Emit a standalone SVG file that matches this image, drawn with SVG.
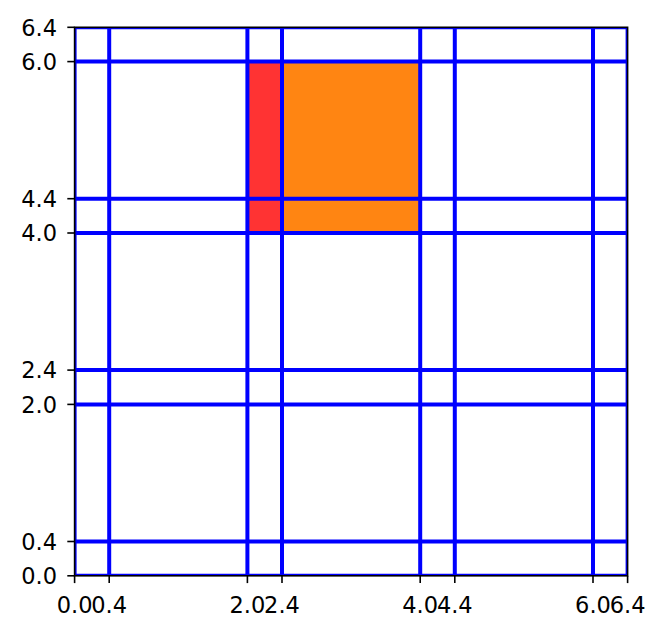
<svg xmlns="http://www.w3.org/2000/svg" width="666" height="636" viewBox="0 0 666 636">
<style>
.grid line{stroke:#0000ff;stroke-width:4}
.tick line{stroke:#000;stroke-width:1.6}
text{font-family:"DejaVu Sans",sans-serif;font-size:22.5px;fill:#000}
.yl{text-anchor:end}
.xl{text-anchor:middle}
</style>
<defs><clipPath id="ax"><rect x="74.6" y="27.3" width="553" height="548.5"/></clipPath></defs>
<rect width="666" height="636" fill="#fff"/>
<g id="cells">
<rect id="red" x="247.4" y="61.6" width="34.6" height="171.4" fill="#ff3333"/>
<rect id="orange" x="282" y="61.6" width="138.2" height="171.4" fill="#ff8512"/>
</g>
<g id="connectors" class="grid" clip-path="url(#ax)">
<line x1="74.6" y1="27.3" x2="74.6" y2="575.8"/>
<line x1="109.2" y1="27.3" x2="109.2" y2="575.8"/>
<line x1="247.4" y1="27.3" x2="247.4" y2="575.8"/>
<line x1="282" y1="27.3" x2="282" y2="575.8"/>
<line x1="420.2" y1="27.3" x2="420.2" y2="575.8"/>
<line x1="454.8" y1="27.3" x2="454.8" y2="575.8"/>
<line x1="593" y1="27.3" x2="593" y2="575.8"/>
<line x1="627.6" y1="27.3" x2="627.6" y2="575.8"/>
<line x1="74.6" y1="575.8" x2="627.6" y2="575.8"/>
<line x1="74.6" y1="541.5" x2="627.6" y2="541.5"/>
<line x1="74.6" y1="404.4" x2="627.6" y2="404.4"/>
<line x1="74.6" y1="370.1" x2="627.6" y2="370.1"/>
<line x1="74.6" y1="233" x2="627.6" y2="233"/>
<line x1="74.6" y1="198.7" x2="627.6" y2="198.7"/>
<line x1="74.6" y1="61.6" x2="627.6" y2="61.6"/>
<line x1="74.6" y1="27.3" x2="627.6" y2="27.3"/>
</g>
<g id="axes">
<rect x="74.6" y="27.3" width="553" height="548.5" fill="none" stroke="#000" stroke-width="1.6"/>
<g class="tick">
<line x1="74.6" y1="575.8" x2="74.6" y2="583.1"/>
<line x1="109.2" y1="575.8" x2="109.2" y2="583.1"/>
<line x1="247.4" y1="575.8" x2="247.4" y2="583.1"/>
<line x1="282" y1="575.8" x2="282" y2="583.1"/>
<line x1="420.2" y1="575.8" x2="420.2" y2="583.1"/>
<line x1="454.8" y1="575.8" x2="454.8" y2="583.1"/>
<line x1="593" y1="575.8" x2="593" y2="583.1"/>
<line x1="627.6" y1="575.8" x2="627.6" y2="583.1"/>
<line x1="67.3" y1="575.8" x2="74.6" y2="575.8"/>
<line x1="67.3" y1="541.5" x2="74.6" y2="541.5"/>
<line x1="67.3" y1="404.4" x2="74.6" y2="404.4"/>
<line x1="67.3" y1="370.1" x2="74.6" y2="370.1"/>
<line x1="67.3" y1="233" x2="74.6" y2="233"/>
<line x1="67.3" y1="198.7" x2="74.6" y2="198.7"/>
<line x1="67.3" y1="61.6" x2="74.6" y2="61.6"/>
<line x1="67.3" y1="27.3" x2="74.6" y2="27.3"/>
</g>
<g class="xl">
<text x="74.6" y="612.7">0.0</text>
<text x="109.2" y="612.7">0.4</text>
<text x="247.4" y="612.7">2.0</text>
<text x="282" y="612.7">2.4</text>
<text x="420.2" y="612.7">4.0</text>
<text x="454.8" y="612.7">4.4</text>
<text x="593" y="612.7">6.0</text>
<text x="627.6" y="612.7">6.4</text>
</g>
<g class="yl">
<text x="57" y="584">0.0</text>
<text x="57" y="549.7">0.4</text>
<text x="57" y="412.6">2.0</text>
<text x="57" y="378.3">2.4</text>
<text x="57" y="241.2">4.0</text>
<text x="57" y="206.9">4.4</text>
<text x="57" y="69.8">6.0</text>
<text x="57" y="35.5">6.4</text>
</g>
</g>
</svg>
